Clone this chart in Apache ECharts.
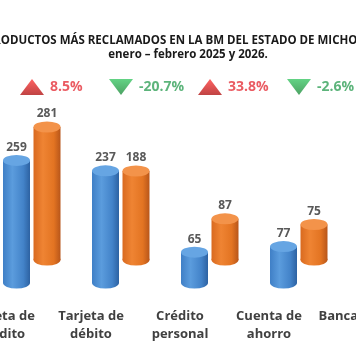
<!DOCTYPE html>
<html><head><meta charset="utf-8">
<script src="https://cdn.jsdelivr.net/npm/echarts@6/dist/echarts.min.js"></script>
<style>html,body{margin:0;padding:0;overflow:hidden;background:#fff;width:356px;height:364px;position:relative}
#c{position:absolute;left:-100px;top:0;width:556px;height:364px}</style>
</head><body><div id="c"></div>
<script>
const titleLine1 = 'PRODUCTOS MÁS RECLAMADOS EN LA BM DEL ESTADO DE MICHOACÁN';
const titleLine2 = 'enero – febrero 2025 y 2026.';
const categories = ['Tarjeta de\ncrédito', 'Tarjeta de\ndébito', 'Crédito\npersonal', 'Cuenta de\nahorro', 'Banca móvil'];
const values2025 = [259, 237, 65, 77, null];
const values2026 = [281, 188, 87, 75, null];
const pctChange = [8.5, -20.7, 33.8, -2.6, null];

const chart = echarts.init(document.getElementById('c'));
const FONT = '"Open Sans", "Noto Sans", sans-serif';
const blueGrad = new echarts.graphic.LinearGradient(0,0,1,0,[
  {offset:0,color:'#3f7fc6'},{offset:0.35,color:'#5b9cdd'},{offset:0.75,color:'#4383c9'},{offset:1,color:'#2d62a2'}]);
const orangeGrad = new echarts.graphic.LinearGradient(0,0,1,0,[
  {offset:0,color:'#d96a20'},{offset:0.35,color:'#ef8433'},{offset:0.75,color:'#e37422'},{offset:1,color:'#b8561a'}]);
const blueTop = '#66a5e3', orangeTop = '#f3934a';
const BW = 27, EH = 11;

function cylinder(vals, axisIdx, grad, topColor){
  return [
    {type:'bar', xAxisIndex:axisIdx, yAxisIndex:axisIdx, data:vals, barWidth:BW, z:2,
     itemStyle:{color:grad},
     label:{show:true, position:'top', distance:7, color:'#595959', fontWeight:'bold', fontSize:12, fontFamily:FONT}},
    {type:'pictorialBar', xAxisIndex:axisIdx, yAxisIndex:axisIdx, data:vals, symbol:'circle',
     symbolSize:[BW,EH], symbolPosition:'start', symbolOffset:[0,'50%'], z:1, itemStyle:{color:grad}},
    {type:'pictorialBar', xAxisIndex:axisIdx, yAxisIndex:axisIdx, data:vals, symbol:'circle',
     symbolSize:[BW,EH], symbolPosition:'end', symbolOffset:[0,'-50%'], z:3, itemStyle:{color:topColor}}
  ];
}

const indData = pctChange.map(v => v == null ? null : {
  value: 0,
  symbolRotate: v >= 0 ? 0 : 180,
  itemStyle: {color: v >= 0
    ? new echarts.graphic.LinearGradient(0,0,0,1,[{offset:0,color:'#ff3b3b'},{offset:1,color:'#b01414'}])
    : new echarts.graphic.LinearGradient(0,0,0,1,[{offset:0,color:'#1f8a3c'},{offset:1,color:'#3cc866'}])},
  label: {color: v >= 0 ? '#e5323b' : '#35a15a', formatter: v.toFixed(1) + '%'}
});

chart.setOption({
  animation:false,
  title:{text:titleLine1, subtext:titleLine2, left:283, top:30, textAlign:'center', itemGap:2,
    textStyle:{fontFamily:FONT, fontWeight:'bold', fontSize:11.5, color:'#1a1a1a'},
    subtextStyle:{fontFamily:FONT, fontWeight:'bold', fontSize:11.5, color:'#1a1a1a'}},
  grid:[
    {left:72, width:445, bottom:81, height:142},
    {left:102.5, width:445, bottom:104, height:142},
    {left:87.5, width:445, top:77, height:20}
  ],
  xAxis:[
    {gridIndex:0, type:'category', data:categories, axisLine:{show:false}, axisTick:{show:false},
     axisLabel:{interval:0, margin:24, padding:[0,29,0,0], color:'#404040', fontWeight:'bold', fontSize:13, lineHeight:18, fontFamily:FONT}},
    {gridIndex:1, type:'category', data:categories, show:false},
    {gridIndex:2, type:'category', data:categories, show:false}
  ],
  yAxis:[
    {gridIndex:0, type:'value', min:0, max:300, show:false},
    {gridIndex:1, type:'value', min:0, max:300, show:false},
    {gridIndex:2, type:'value', min:-1, max:1, show:false}
  ],
  series:[
    ...cylinder(values2026, 1, orangeGrad, orangeTop),
    ...cylinder(values2025, 0, blueGrad, blueTop),
    {type:'scatter', xAxisIndex:2, yAxisIndex:2, data:indData, symbol:'triangle', symbolSize:[24,16],
     label:{show:true, position:'right', distance:6, fontWeight:'bold', fontSize:14, fontFamily:FONT}}
  ]
});
</script></body></html>
